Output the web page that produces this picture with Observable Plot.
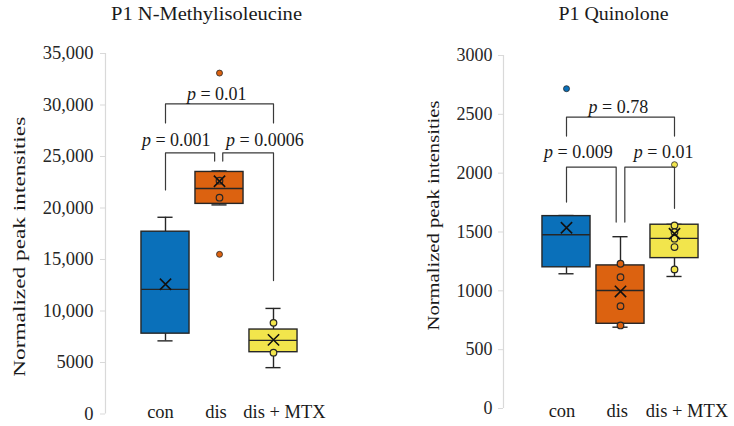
<!DOCTYPE html>
<html><head><meta charset="utf-8">
<script src="https://cdn.jsdelivr.net/npm/d3@7"></script>
<script src="https://cdn.jsdelivr.net/npm/@observablehq/plot@0.6"></script>
<style>
body{margin:0;background:#fff;}
#wrap{width:734px;height:426px;display:flex;}
svg{display:block;}
</style></head><body><div id="wrap"></div>
<script>
// ---------- shared ----------
const categories = ["con", "dis", "dis + MTX"];
const boxColors = ["#0a70ba", "#dc6210", "#f2e54c"];

// ---------- panel 1: P1 N-Methylisoleucine ----------
const title1 = "P1 N-Methylisoleucine";
const yTicks1 = [0, 5000, 10000, 15000, 20000, 25000, 30000, 35000];
const yTickLabels1 = ["0", "5000", "10,000", "15,000", "20,000", "25,000", "30,000", "35,000"];
const whiskerLow1 = [7100, 20300, 4500];
const q1_1 = [7800, 20400, 6000];
const median1 = [12100, 21900, 7150];
const q3_1 = [17700, 23500, 8200];
const whiskerHigh1 = [19100, 23600, 10250];
const mean1 = [12600, 22600, 7200];
const innerCat1 = [1, 1, 2, 2];
const innerVal1 = [21000, 22650, 8850, 5950];
const outCat1 = [1, 1];
const outVal1 = [33100, 15500];
const brLabels1 = ["p = 0.01", "p = 0.001", "p = 0.0006"];
const brFrom1 = [1, 1, 2.06];
const brTo1 = [3, 1.91, 3];
const brTop1 = [30100, 25360, 25360];
const brLeftEnd1 = [28260, 21750, 24560];
const brRightEnd1 = [28260, 24560, 12950];
const brLabX1 = [1.95, 1.2, 2.84];
const brLabY1 = [31000, 26560, 26560];

// ---------- panel 2: P1 Quinolone ----------
const title2 = "P1 Quinolone";
const yTicks2 = [0, 500, 1000, 1500, 2000, 2500, 3000];
const yTickLabels2 = ["0", "500", "1000", "1500", "2000", "2500", "3000"];
const whiskerLow2 = [1145, 691, 1122];
const q1_2 = [1200, 720, 1278];
const median2 = [1477, 1003, 1446];
const q3_2 = [1635, 1216, 1562];
const whiskerHigh2 = [1640, 1460, 1565];
const mean2 = [1536, 995, 1485];
const innerCat2 = [1, 1, 1, 1, 2, 2, 2, 2, 2];
const innerVal2 = [1230, 1116, 870, 706, 1556, 1499, 1443, 1372, 1182];
const outCat2 = [0, 2];
const outVal2 = [2718, 2072];
const brLabels2 = ["p = 0.78", "p = 0.009", "p = 0.01"];
const brFrom2 = [1, 1, 2.08];
const brTo2 = [3, 1.92, 3];
const brTop2 = [2477, 2052, 2052];
const brLeftEnd2 = [2315, 1754, 1584];
const brRightEnd2 = [2315, 1584, 1701];
const brLabX2 = [1.96, 1.22, 2.8];
const brLabY2 = [2562, 2179, 2179];

const yLabel = "Normalized peak intensities";

function panel(cfg) {
  const rows = categories.map((c, i) => ({
    cat: c, pos: i + 1, color: boxColors[i],
    lo: cfg.wl[i], q1: cfg.q1[i], med: cfg.med[i], q3: cfg.q3[i], hi: cfg.wh[i], mean: cfg.mean[i]
  }));
  const inner = cfg.innerCat.map((c, i) => ({pos: c + 1, v: cfg.innerVal[i], color: boxColors[c]}));
  const outs = cfg.outCat.map((c, i) => ({pos: c + 1, v: cfg.outVal[i], color: boxColors[c]}));
  const brPts = [];
  cfg.brLabels.forEach((l, i) => {
    brPts.push({z: l, x: cfg.brFrom[i], y: cfg.brLeftEnd[i]});
    brPts.push({z: l, x: cfg.brFrom[i], y: cfg.brTop[i]});
    brPts.push({z: l, x: cfg.brTo[i], y: cfg.brTop[i]});
    brPts.push({z: l, x: cfg.brTo[i], y: cfg.brRightEnd[i]});
  });
  const brLab = cfg.brLabels.map((l, i) => ({t: l, x: cfg.brLabX[i], y: cfg.brLabY[i]}));
  const hw = 0.445, cw = 0.14;
  const ink = "#262626";
  const catMarks = rows.map((r, i) =>
    Plot.text([r], {x: "pos", text: "cat", frameAnchor: "bottom", lineAnchor: "middle", textAnchor: "middle",
      dx: cfg.catNudge[i], dy: cfg.catDy, fontSize: cfg.catFont, fill: "#1a1a1a"}));
  const svg = Plot.plot({
    width: 367, height: 426,
    marginTop: cfg.mt, marginBottom: cfg.mb, marginLeft: cfg.ml, marginRight: cfg.mr,
    x: {domain: cfg.xd, axis: null},
    y: {domain: [0, cfg.ymax], axis: null},
    color: {type: "identity"},
    style: {fontFamily: "'Liberation Serif','Times New Roman',serif", fontSize: "18px", color: "#222", background: "white", overflow: "visible"},
    marks: [
      Plot.ruleX([cfg.xd[0]], {stroke: "#d9d9d9", strokeWidth: 1.2}),
      Plot.axisY({ticks: cfg.ticks, tickFormat: (d) => cfg.tickLabels[cfg.ticks.indexOf(d)], tickSize: 5, tickPadding: cfg.tickPad, stroke: "#d9d9d9", fill: "#262626", fontSize: cfg.tickFont, label: null}),
      // whiskers
      Plot.ruleX(rows, {x: "pos", y1: "q3", y2: "hi", stroke: ink, strokeWidth: 1.4}),
      Plot.ruleX(rows, {x: "pos", y1: "lo", y2: "q1", stroke: ink, strokeWidth: 1.4}),
      Plot.ruleY(rows, {y: "hi", x1: d => d.pos - cw, x2: d => d.pos + cw, stroke: ink, strokeWidth: 1.4}),
      Plot.ruleY(rows, {y: "lo", x1: d => d.pos - cw, x2: d => d.pos + cw, stroke: ink, strokeWidth: 1.4}),
      // boxes
      Plot.rect(rows, {x1: d => d.pos - hw, x2: d => d.pos + hw, y1: "q1", y2: "q3", fill: "color", stroke: ink, strokeWidth: 1.4}),
      Plot.ruleY(rows, {y: "med", x1: d => d.pos - hw, x2: d => d.pos + hw, stroke: ink, strokeWidth: 1.4}),
      // points
      Plot.dot(inner, {x: "pos", y: "v", r: 3.3, fill: "color", stroke: ink, strokeWidth: 1.2}),
      Plot.dot(outs, {x: "pos", y: "v", r: 3, fill: "color", stroke: ink, strokeWidth: 0.8}),
      Plot.dot(rows, {x: "pos", y: "mean", symbol: "times", r: 5.2, stroke: "#111", strokeWidth: 1.6}),
      // brackets
      Plot.line(brPts, {x: "x", y: "y", z: "z", stroke: "#3a3a3a", strokeWidth: 1.2, curve: "linear"}),
      Plot.text(brLab, {x: "x", y: "y", text: "t", fontSize: 18, fill: "#1a1a1a"}),
      // category labels
      ...catMarks,
      // title
      Plot.text([cfg.title], {text: d => d, frameAnchor: "top", lineAnchor: "middle", textAnchor: "middle", dx: cfg.titleDx, dy: cfg.titleDy, fontSize: 18, fill: "#1a1a1a"}),
      // y label
      Plot.text([yLabel], {text: d => d, frameAnchor: "left", lineAnchor: "middle", textAnchor: "middle", rotate: -90, dx: cfg.ylDx, dy: cfg.ylDy, fontSize: 17.5, fill: "#1a1a1a"})
    ]
  });
  d3.select(svg).selectAll("text").each(function () {
    const t = this.textContent;
    const el = d3.select(this);
    if (/^p = /.test(t)) {
      el.text(null);
      el.append("tspan").attr("font-style", "italic").text("p");
      el.append("tspan").text(t.slice(1));
    } else if (t === cfg.title) {
      el.attr("textLength", cfg.titleLen).attr("lengthAdjust", "spacingAndGlyphs");
    } else if (t === yLabel) {
      el.attr("textLength", cfg.ylLen).attr("lengthAdjust", "spacingAndGlyphs");
    }
  });
  return svg;
}

const wrap = document.getElementById("wrap");
wrap.appendChild(panel({
  title: title1, ticks: yTicks1, tickLabels: yTickLabels1, ymax: 35000,
  wl: whiskerLow1, q1: q1_1, med: median1, q3: q3_1, wh: whiskerHigh1, mean: mean1,
  innerCat: innerCat1, innerVal: innerVal1, outCat: outCat1, outVal: outVal1,
  brLabels: brLabels1, brFrom: brFrom1, brTo: brTo1, brTop: brTop1, brLeftEnd: brLeftEnd1, brRightEnd: brRightEnd1, brLabX: brLabX1, brLabY: brLabY1,
  mt: 53, mb: 12.5, ml: 105, mr: 40, xd: [1 - 60 / 54, 4],
  tickFont: 18.5, tickPad: 7, catFont: 18.5, catDy: -2, catNudge: [-5, -3.5, 11],
  titleDx: -10, titleDy: -39, titleLen: 191,
  ylDx: -86, ylDy: 13, ylLen: 260
}));
wrap.appendChild(panel({
  title: title2, ticks: yTicks2, tickLabels: yTickLabels2, ymax: 3000,
  wl: whiskerLow2, q1: q1_2, med: median2, q3: q3_2, wh: whiskerHigh2, mean: mean2,
  innerCat: innerCat2, innerVal: innerVal2, outCat: outCat2, outVal: outVal2,
  brLabels: brLabels2, brFrom: brFrom2, brTo: brTo2, brTop: brTop2, brLeftEnd: brLeftEnd2, brRightEnd: brRightEnd2, brLabX: brLabX2, brLabY: brLabY2,
  mt: 55, mb: 18, ml: 136, mr: 6, xd: [1 - 63 / 54, 4],
  tickFont: 18, tickPad: 6, catFont: 18.5, catDy: 3, catNudge: [-4.5, -3.3, 12.5],
  titleDx: -2.5, titleDy: -41, titleLen: 110,
  ylDx: -70.5, ylDy: -16.5, ylLen: 230
}));
</script></body></html>
